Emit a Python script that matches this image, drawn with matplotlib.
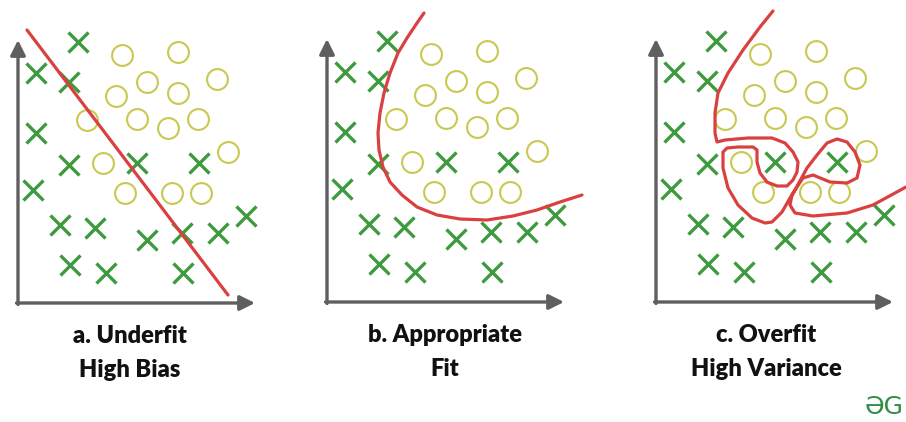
"""
Underfit / appropriate fit / overfit sketch, three panels side by side.
Coordinates are in pixels measured from each panel's origin (x right, y up).
"""

import matplotlib
matplotlib.use("Agg")
from matplotlib import pyplot as plt

# Class "x" points (same layout in every panel)
cross_x = [60, 18, 51, 18, 51, 119, 181, 15, 42, 77, 129, 164, 200, 228, 52, 88, 165]
cross_y = [261, 230, 221, 170, 138, 140, 140, 113, 78, 75, 63, 70, 70, 87, 38, 30, 30]

# Class "o" points
circle_x = [104, 160, 129, 160, 199, 98, 69, 119, 150, 180, 210, 85, 107, 154, 183]
circle_y = [248, 251, 221, 210, 224, 207, 183, 184, 175, 184, 151, 140, 110, 110, 110]

# Decision boundaries
underfit_x = [9, 210]
underfit_y = [273, 8]

good_x = [97, 90, 80, 71, 63, 57, 53, 51, 52, 56, 63, 75, 90, 110, 133, 160, 186, 210, 233, 255]
good_y = [289, 279, 264, 249, 229, 209, 189, 169, 152, 135, 120, 107, 95, 87, 83, 82, 86, 92, 100, 107]

overfit_x = [117, 104, 87, 72, 62, 59, 59, 61, 69, 92, 116, 129, 137, 142, 141, 137, 131, 121, 111, 104,
             101, 101, 97, 82, 71, 67, 67, 72, 82, 96, 109, 116, 126, 134, 139, 151, 161, 171, 181, 191,
             199, 204, 201, 191, 174, 157, 147, 141, 136, 134, 139, 157, 191, 217, 250]
overfit_y = [291, 275, 252, 229, 209, 189, 169, 160, 162, 164, 164, 159, 150, 140, 130, 122, 116, 116, 120, 129,
             140, 152, 155, 155, 154, 150, 134, 114, 97, 84, 79, 80, 90, 104, 112, 134, 147, 159, 163, 160,
             150, 137, 124, 119, 120, 127, 124, 115, 107, 97, 89, 86, 89, 97, 115]

boundaries = [(underfit_x, underfit_y), (good_x, good_y), (overfit_x, overfit_y)]
title_top = ["a. Underfit", "b. Appropriate", "c. Overfit"]
title_bottom = ["High Bias", "Fit", "High Variance"]

# Panel origins in image pixels (from top-left)
origins = [(18, 303), (327, 302), (656, 302)]
title_dx = [112, 118, 110]

W, H = 906, 422
green = "#3f9a3f"
yellow = "#c9c850"
red = "#d9403f"
gray = "#5f5f5f"

fig = plt.figure(figsize=(W / 100, H / 100), dpi=100)
fig.patch.set_facecolor("white")

for i, (ox, oy) in enumerate(origins):
    ax = fig.add_axes([(ox - 20) / W, (H - oy - 100) / H, 300 / W, 420 / H])
    ax.set_xlim(-20, 280)
    ax.set_ylim(-100, 320)
    ax.axis("off")

    # axes arrows
    arrow = dict(arrowstyle="-|>,head_length=0.6,head_width=0.3", color=gray, lw=2.4,
                 mutation_scale=15, shrinkA=0, shrinkB=0)
    ax.annotate("", xy=(0, 263), xytext=(0, -1.5), arrowprops=arrow, annotation_clip=False)
    ax.annotate("", xy=(237, 0), xytext=(-1.5, 0), arrowprops=arrow, annotation_clip=False)

    ax.plot(cross_x, cross_y, ls="none", marker="x", ms=14.5, mew=2.4, color=green, clip_on=False)
    ax.plot(circle_x, circle_y, ls="none", marker="o", ms=15, mew=1.5, mfc="none", mec=yellow, clip_on=False)

    bx, by = boundaries[i]
    ax.plot(bx, by, color=red, lw=2.3, solid_joinstyle="round", solid_capstyle="round", clip_on=False)

    ax.text(title_dx[i], -33, title_top[i], ha="center", va="center", fontsize=17,
            fontweight="heavy", family="Lato", color="#111111")
    ax.text(title_dx[i], -67, title_bottom[i], ha="center", va="center", fontsize=17,
            fontweight="heavy", family="Lato", color="#111111")

# logo in the corner
fig.text(904 / W, 1 - 407 / H, "ƏG", ha="right", va="center", fontsize=18, color="#2f8d46")

plt.savefig("out.png", dpi=100, facecolor="white")
plt.close()
